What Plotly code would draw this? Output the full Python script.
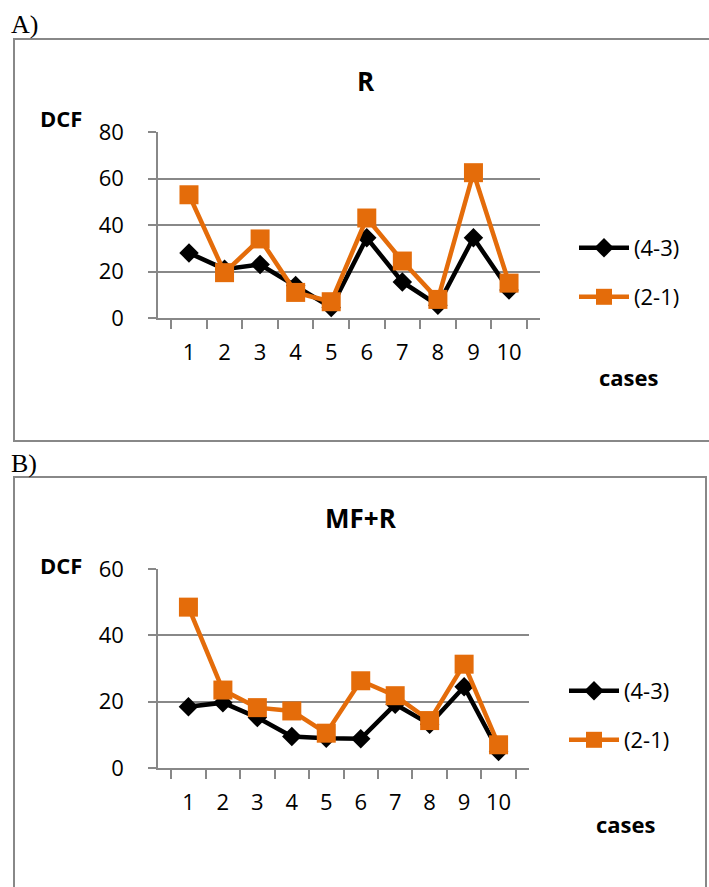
import plotly.graph_objects as go

W, H = 709, 887

cases = ["1", "2", "3", "4", "5", "6", "7", "8", "9", "10"]
a_43 = [28, 21, 23, 14, 4.5, 34.5, 15.5, 5.5, 34.5, 12]
a_21 = [53, 19.5, 34, 11, 7, 43, 24.5, 8, 62.5, 15]
b_43 = [18.5, 19.7, 15.2, 9.5, 9, 8.8, 19.2, 13.2, 24.5, 5]
b_21 = [48.5, 23.5, 18.2, 17.2, 10.5, 26.3, 21.8, 14.3, 31.3, 7]
series_names = ["(4-3)", "(2-1)"]
titles = ["R", "MF+R"]
panel_labels = ["A)", "B)"]

BLACK = "#000000"
ORANGE = "#E46C0A"
GRID = "#888888"
FONT = "Open Sans"


def px(x):
    return x / W


def py(y):
    return 1 - y / H


fig = go.Figure()

panels = [
    dict(xa="x", ya="y", data=(a_43, a_21), legs=("legend", "legend2")),
    dict(xa="x2", ya="y2", data=(b_43, b_21), legs=("legend3", "legend4")),
]

for p in panels:
    d43, d21 = p["data"]
    fig.add_trace(go.Scatter(
        x=cases, y=d43, name=series_names[0], mode="lines+markers",
        xaxis=p["xa"], yaxis=p["ya"], legend=p["legs"][0],
        line=dict(color=BLACK, width=4.5),
        marker=dict(symbol="diamond", size=15, color=BLACK),
    ))
    fig.add_trace(go.Scatter(
        x=cases, y=d21, name=series_names[1], mode="lines+markers",
        xaxis=p["xa"], yaxis=p["ya"], legend=p["legs"][1],
        line=dict(color=ORANGE, width=4.5),
        marker=dict(symbol="square", size=19, color=ORANGE),
    ))

xcommon = dict(
    type="category", showgrid=False, showline=True, linecolor=GRID, linewidth=1.5,
    ticks="outside", tickson="boundaries", ticklen=9, tickcolor=GRID, tickwidth=1.5,
    tickfont=dict(family=FONT, size=22, color="#000"), ticklabelstandoff=14,
    tickangle=0, zeroline=False, fixedrange=True, automargin=False,
)
ycommon = dict(
    showgrid=True, gridcolor=GRID, gridwidth=1.5, showline=True, linecolor=GRID,
    linewidth=1.5, ticks="outside", ticklen=8, tickcolor=GRID, tickwidth=1.5,
    tickfont=dict(family=FONT, size=22, color="#000"), ticklabelstandoff=20,
    zeroline=False, dtick=20, fixedrange=True, automargin=False,
)

legcommon = dict(
    font=dict(family=FONT, size=22, color="#000"), bgcolor="rgba(0,0,0,0)",
    borderwidth=0, xanchor="left", yanchor="middle", itemwidth=50,
)

fig.update_layout(
    width=W, height=H,
    margin=dict(l=0, r=0, t=0, b=0, pad=0, autoexpand=False),
    paper_bgcolor="white", plot_bgcolor="white", showlegend=True,
    xaxis=dict(domain=[px(158), px(540)], anchor="y", **xcommon),
    yaxis=dict(domain=[py(318), py(132)], anchor="x", range=[0, 80], **ycommon),
    xaxis2=dict(domain=[px(158), px(529)], anchor="y2", **xcommon),
    yaxis2=dict(domain=[py(768), py(569)], anchor="x2", range=[0, 60], **ycommon),
    legend=dict(x=px(574), y=py(248), **legcommon),
    legend2=dict(x=px(574), y=py(297), **legcommon),
    legend3=dict(x=px(564), y=py(691), **legcommon),
    legend4=dict(x=px(564), y=py(740), **legcommon),
)

# panel frames (A runs off the right edge, B runs off the bottom)
def path(pts):
    return "M " + " L ".join("%.5f,%.5f" % (px(x), py(y)) for x, y in pts)

fig.add_shape(type="path", xref="paper", yref="paper",
              path=path([(760, 39), (14, 39), (14, 441), (760, 441)]),
              line=dict(color=GRID, width=2), layer="below")
fig.add_shape(type="path", xref="paper", yref="paper",
              path=path([(14, 920), (14, 477), (706, 477), (706, 920)]),
              line=dict(color=GRID, width=2), layer="below")

ann = []
def text(t, x, y, size, bold=False, family=FONT, anchor="center"):
    ann.append(dict(text=("<b>%s</b>" % t) if bold else t, x=px(x), y=py(y),
                    xref="paper", yref="paper", showarrow=False, xanchor=anchor,
                    yanchor="middle", font=dict(family=family, size=size, color="#000")))

text(panel_labels[0], 9, 24, 26, family="Liberation Serif", anchor="left")
text(panel_labels[1], 9, 463, 26, family="Liberation Serif", anchor="left")
text(titles[0], 366, 81, 26, bold=True)
text(titles[1], 361, 518, 26, bold=True)
text("DCF", 61, 118, 22, bold=True)
text("DCF", 61, 565, 22, bold=True)
text("cases", 629, 377, 22, bold=True)
text("cases", 626, 824, 22, bold=True)
fig.update_layout(annotations=ann)

fig.write_html(
    "out.html",
    config={"displayModeBar": False},
    post_script="document.body.style.margin='0';document.body.style.overflow='hidden';",
)
